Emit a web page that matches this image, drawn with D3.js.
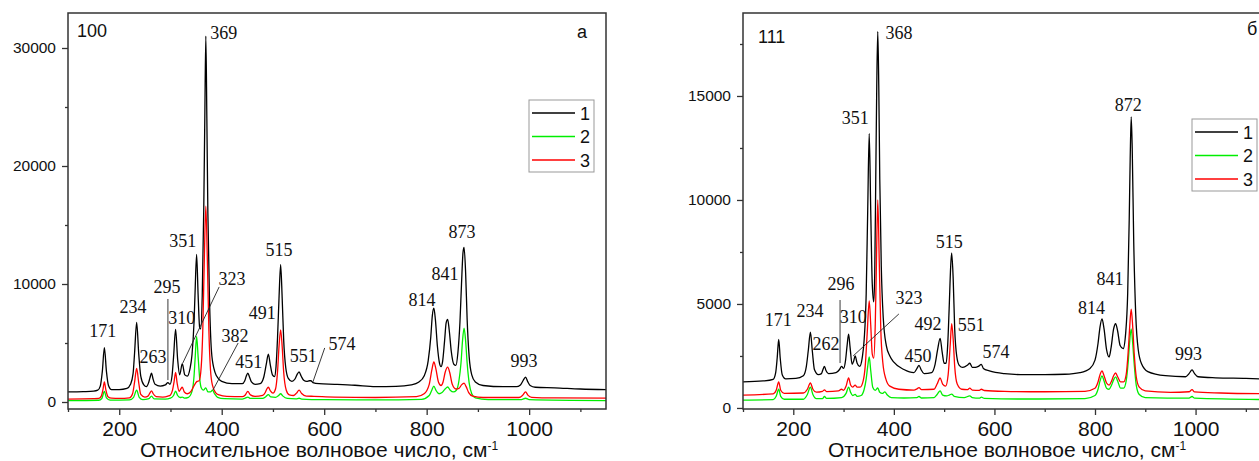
<!DOCTYPE html>
<html><head><meta charset="utf-8">
<script src="https://cdn.jsdelivr.net/npm/d3@7"></script>
<style>
body{margin:0;background:#fff;}
svg{display:block;}
</style></head>
<body>
<svg id="c" width="1259" height="461"></svg>
<script>
// ---------- DATA ----------
const seriesNames = ["1","2","3"];
const seriesColors = ["#000000","#00ee00","#ff0000"];
const xTicks = [200,400,600,800,1000];
const xMinor = [100,300,500,700,900,1100];
const yTicksA = [0,10000,20000,30000];
const yMinorA = [5000,15000,25000];
const yTicksB = [0,5000,10000,15000];
const yMinorB = [2500,7500,12500,17500];
const axisTitle = "Относительное волновое число, см";
const axisTitleSup = "-1";

// Panel a (100): series 1 (black)
const a1 = [[100,850],[130,880],[150,920],[158,1000],[163,1350],[167,2600],[171,4600],[175,2600],[179,1400],[185,1050],[200,1050],[215,1150],[222,1500],[227,2400],[230,4200],[234,6750],[238,4100],[242,2200],[248,1450],[253,1300],[257,1600],[260,2050],[263,2450],[266,1950],[270,1500],[280,1350],[290,1450],[295,1650],[299,1500],[303,2200],[306,3800],[310,6150],[314,3600],[318,2300],[323,3250],[328,2300],[333,2200],[338,2800],[342,4000],[346,6800],[348,9300],[351,12500],[354,9000],[357,6300],[359,6200],[362,9000],[365,16500],[367,24000],[369,31000],[371,24000],[373,16000],[376,9000],[380,4300],[385,2800],[390,2200],[400,1750],[420,1550],[440,1550],[445,1800],[448,2200],[451,2450],[454,2150],[458,1700],[465,1500],[475,1550],[482,2100],[487,3200],[491,4050],[495,3100],[499,2300],[503,2150],[506,3000],[509,5500],[512,9000],[515,11650],[518,8800],[521,5200],[525,2900],[530,2000],[537,1750],[543,1950],[548,2400],[551,2550],[555,2200],[560,1850],[566,1750],[571,1800],[574,1800],[578,1650],[590,1550],[620,1500],[660,1420],[700,1300],[740,1320],[770,1450],[785,1700],[795,2200],[803,3500],[808,5500],[811,7300],[814,7950],[817,7000],[821,4700],[825,3300],[828,3000],[831,3400],[835,5200],[838,6700],[841,7000],[844,6100],[848,4300],[853,3200],[857,3100],[861,4200],[865,6800],[868,10000],[871,12700],[873,13100],[876,11000],[879,7000],[883,3800],[888,2300],[895,1700],[910,1400],[950,1300],[975,1300],[983,1450],[988,1800],[993,2100],[997,1750],[1002,1400],[1012,1250],[1050,1200],[1100,1100],[1150,1050]];
// Panel a: series 2 (green)
const a2 = [[100,120],[160,150],[166,300],[171,900],[175,350],[182,160],[220,180],[228,400],[234,1000],[239,400],[246,200],[258,280],[263,500],[268,260],[290,250],[300,330],[306,550],[310,920],[314,550],[319,380],[323,420],[327,330],[335,400],[342,900],[346,2200],[348,3600],[351,5550],[354,3800],[357,2000],[360,1200],[364,1000],[369,1200],[373,850],[378,850],[382,1000],[386,700],[392,400],[405,280],[440,250],[446,330],[451,420],[456,300],[480,300],[486,450],[491,620],[496,430],[505,400],[511,550],[515,700],[519,520],[528,300],[545,260],[551,320],[556,250],[600,200],[700,180],[790,230],[805,550],[810,1000],[814,1350],[818,1000],[824,700],[830,800],[836,1100],[841,1270],[846,1000],[852,850],[858,1000],[863,1800],[867,3300],[870,5200],[873,6250],[876,5200],[879,3300],[883,1600],[888,700],[895,350],[920,200],[985,200],[993,320],[1000,200],[1150,120]];
// Panel a: series 3 (red)
const a3 = [[100,250],[150,280],[160,300],[165,500],[168,1000],[171,1700],[174,1000],[178,450],[185,320],[200,300],[220,350],[226,700],[230,1700],[234,2850],[238,1650],[242,650],[250,420],[256,500],[260,780],[263,950],[266,720],[272,450],[285,420],[295,500],[300,600],[304,1000],[307,1700],[310,2500],[313,1600],[317,900],[320,1100],[323,1250],[327,850],[333,700],[340,900],[345,1300],[349,1600],[352,1750],[356,1800],[360,3000],[363,6000],[366,12000],[369,16600],[372,12000],[375,6000],[378,2800],[382,1400],[388,800],[395,600],[410,480],[440,450],[446,600],[451,900],[456,600],[465,480],[480,560],[485,800],[488,1100],[491,1250],[495,950],[500,750],[505,1100],[509,2600],[512,4800],[515,6100],[518,4700],[521,2500],[526,1000],[532,600],[540,550],[546,750],[551,1000],[556,720],[565,500],[580,480],[620,420],[700,380],[780,450],[795,700],[805,1500],[810,2700],[814,3400],[818,2800],[823,1700],[828,1400],[832,1700],[836,2500],[841,2950],[845,2500],[850,1500],[857,1100],[863,1150],[868,1450],[873,1600],[877,1300],[882,800],[890,500],[910,380],[980,380],[987,550],[993,850],[998,560],[1005,400],[1050,350],[1150,330]];

// Panel b (111): series 1 (black)
const b1 = [[100,1250],[140,1300],[160,1380],[165,1700],[168,2400],[171,3300],[174,2400],[178,1600],[185,1400],[205,1420],[220,1550],[226,2000],[230,2800],[234,3650],[238,2700],[242,1850],[250,1600],[256,1650],[259,1850],[262,2000],[265,1800],[270,1650],[285,1700],[292,1850],[296,2000],[300,1900],[304,2300],[307,3000],[310,3550],[313,2900],[317,2100],[320,2250],[323,2500],[327,2150],[332,2000],[337,2400],[341,3300],[345,5500],[348,9500],[351,13200],[354,9500],[357,6000],[360,5100],[362,6500],[364,11000],[366,15500],[368,18100],[370,15500],[372,11000],[375,6800],[379,4300],[385,3000],[392,2500],[400,2200],[420,1850],[440,1700],[446,1900],[450,2050],[454,1850],[460,1650],[475,1700],[482,2100],[487,2800],[492,3350],[496,2700],[500,2150],[504,2150],[507,3000],[510,4800],[513,6800],[515,7450],[518,6200],[521,3800],[525,2500],[530,2050],[537,1950],[546,2050],[551,2150],[556,1950],[562,1950],[568,2000],[574,2100],[578,1900],[590,1780],[620,1650],[660,1600],[700,1600],[740,1620],[770,1700],[790,1900],[800,2300],[806,3100],[810,3900],[814,4280],[818,3800],[823,2800],[828,2450],[832,2900],[837,3800],[841,4050],[845,3700],[850,3000],[856,2850],[861,3600],[865,5500],[868,9000],[870,12000],[872,14000],[874,12500],[877,8000],[881,4500],[886,2800],[893,2100],[905,1750],[940,1550],[980,1500],[987,1650],[993,1830],[998,1650],[1005,1500],[1040,1450],[1100,1420],[1150,1380]];
// Panel b: series 2 (green)
const b2 = [[100,380],[160,400],[166,560],[171,900],[175,560],[182,420],[220,420],[228,650],[234,1000],[239,650],[246,450],[258,450],[262,550],[266,460],[296,500],[305,700],[310,1000],[314,750],[318,600],[323,650],[327,560],[335,600],[341,900],[345,1400],[348,2000],[351,2450],[354,1800],[358,1000],[363,850],[368,960],[372,750],[377,700],[382,770],[387,620],[395,500],[420,480],[446,500],[450,550],[455,480],[480,500],[486,650],[492,820],[497,620],[505,580],[511,630],[515,670],[520,560],[540,500],[551,580],[556,500],[570,470],[574,520],[580,460],[650,430],[780,450],[800,600],[806,900],[810,1300],[814,1540],[818,1300],[823,950],[828,900],[833,1100],[837,1350],[841,1490],[845,1300],[851,950],[857,950],[862,1300],[866,2200],[869,3200],[872,3800],[875,3100],[878,2100],[882,1100],[888,650],[900,500],[987,470],[993,550],[998,470],[1150,400]];
// Panel b: series 3 (red)
const b3 = [[100,620],[160,680],[166,850],[171,1250],[175,850],[182,700],[220,720],[228,900],[234,1200],[239,900],[246,760],[258,800],[262,870],[266,790],[290,820],[296,900],[300,850],[305,1050],[310,1440],[314,1100],[318,1000],[323,1100],[327,1000],[333,1000],[339,1300],[343,2000],[347,3600],[351,5150],[354,4000],[357,2600],[360,2400],[363,4000],[365,6500],[368,10000],[371,7000],[374,3800],[378,2200],[384,1400],[392,1050],[410,900],[440,860],[446,920],[450,980],[455,880],[480,900],[486,1150],[492,1440],[497,1150],[503,1050],[508,1600],[512,3000],[515,4050],[518,3300],[521,2000],[526,1150],[535,900],[546,880],[551,950],[556,860],[570,850],[574,900],[580,840],[620,800],[700,780],[780,800],[800,950],[806,1250],[810,1600],[814,1780],[818,1550],[823,1200],[828,1100],[833,1300],[837,1550],[841,1680],[845,1500],[851,1250],[857,1250],[862,1600],[866,2700],[869,3900],[872,4750],[875,3900],[878,2600],[882,1500],[888,1000],[900,820],[950,750],[987,780],[993,880],[998,770],[1050,720],[1150,680]];

// Peak labels: [text, wavenumber anchor, intensity anchor]
const peaksA = [["171",168,5510],["234",227,7540],["263",266,3300],["295",293,9240],["310",322,6610],["351",324,13140],["323",420,9920],["369",404,30760],["382",426,5085],["451",453,2880],["491",479,7030],["515",512,12370],["551",559,3390],["574",635,4400],["814",791,8140],["841",836,10340],["873",869,13900],["993",990,2970]];
const leadersA = [[295,8730,295,1860],[395,9750,324,3300],[432,5000,383,1020],[601,4580,578,1700]];
const peaksB = [["368",410,17740],["351",323,13650],["171",170,3940],["234",233,4375],["262",265,2790],["296",295,5670],["310",319,4090],["323",430,5000],["450",448,2210],["492",468,3750],["515",510,7690],["551",554,3700],["574",603,2400],["814",793,4520],["841",830,5910],["872",866,14280],["993",986,2310]];
const leadersB = [[293,5190,293,2160],[410,4520,319,2500]];

// ---------- DRAW ----------
const svg = d3.select("#c");
const SANS = "'Liberation Sans', Arial, sans-serif";
const SERIF = "'Liberation Serif', 'Times New Roman', serif";

function panel(cfg){
  const x = d3.scaleLinear().domain([100,1150]).range(cfg.xr);
  const y = d3.scaleLinear().domain(cfg.yd).range([409,13]);
  const g = svg.append("g");
  const cid = "clip"+cfg.id;
  g.append("clipPath").attr("id",cid).append("rect")
    .attr("x",cfg.xr[0]).attr("y",13).attr("width",cfg.xr[1]-cfg.xr[0]).attr("height",396);

  const line = d3.line().x(d=>x(d[0])).y(d=>y(d[1])).curve(d3.curveMonotoneX);
  [0,1,2].forEach(i=>{
    g.append("path").datum(cfg.series[i]).attr("d",line)
      .attr("fill","none").attr("stroke",seriesColors[i]).attr("stroke-width",1.3)
      .attr("stroke-linejoin","round").attr("clip-path",`url(#${cid})`);
  });

  // leaders
  g.selectAll(".ld").data(cfg.leaders).join("line")
    .attr("x1",d=>x(d[0])).attr("y1",d=>y(d[1])).attr("x2",d=>x(d[2])).attr("y2",d=>y(d[3]))
    .attr("stroke","#222").attr("stroke-width",0.9);
  // peak labels
  g.selectAll(".pk").data(cfg.peaks).join("text")
    .attr("x",d=>x(d[1])).attr("y",d=>y(d[2])).attr("text-anchor","middle")
    .attr("font-family",SERIF).attr("font-size",18).attr("fill","#111").text(d=>d[0]);

  // frame
  g.append("rect").attr("x",cfg.xr[0]).attr("y",13).attr("width",cfg.xr[1]-cfg.xr[0]).attr("height",396)
    .attr("fill","none").attr("stroke","#333").attr("stroke-width",1.5);

  // axes
  const ax = g.append("g").attr("transform","translate(0,409)")
    .call(d3.axisBottom(x).tickValues(xTicks).tickSize(6).tickPadding(6).tickFormat(d3.format("d")));
  ax.select(".domain").remove();
  ax.selectAll("line").attr("stroke","#333").attr("stroke-width",1.3);
  ax.selectAll("text").attr("font-family",SANS).attr("font-size",21).attr("fill","#111");
  const axm = g.append("g").attr("transform","translate(0,409)")
    .call(d3.axisBottom(x).tickValues(xMinor).tickSize(3).tickFormat(""));
  axm.select(".domain").remove();
  axm.selectAll("line").attr("stroke","#333").attr("stroke-width",1.3);

  const ay = g.append("g").attr("transform",`translate(${cfg.xr[0]},0)`)
    .call(d3.axisLeft(y).tickValues(cfg.yt).tickSize(6).tickPadding(6).tickFormat(d3.format("d")));
  ay.select(".domain").remove();
  ay.selectAll("line").attr("stroke","#333").attr("stroke-width",1.3);
  ay.selectAll("text").attr("font-family",SANS).attr("font-size",15.5).attr("fill","#111");
  const aym = g.append("g").attr("transform",`translate(${cfg.xr[0]},0)`)
    .call(d3.axisLeft(y).tickValues(cfg.ym).tickSize(3).tickFormat(""));
  aym.select(".domain").remove();
  aym.selectAll("line").attr("stroke","#333").attr("stroke-width",1.3);

  // axis title
  const t = g.append("text").attr("x",cfg.titleX).attr("y",457).attr("text-anchor","middle")
    .attr("font-family",SANS).attr("font-size",21).attr("fill","#111");
  t.append("tspan").text(axisTitle);
  t.append("tspan").attr("dy",-7).attr("font-size",12).text(axisTitleSup);

  // panel labels
  g.append("text").attr("x",cfg.labX).attr("y",cfg.labY).attr("font-family",SANS).attr("font-size",18)
    .attr("fill","#111").text(cfg.lab);
  g.append("text").attr("x",cfg.letX).attr("y",cfg.letY).attr("font-family",SANS).attr("font-size",18)
    .attr("fill","#111").text(cfg.letter);

  // legend
  const L = g.append("g").attr("transform",`translate(${cfg.leg[0]},${cfg.leg[1]})`);
  L.append("rect").attr("width",65).attr("height",72).attr("fill","#fff").attr("stroke","#999").attr("stroke-width",1);
  seriesNames.forEach((n,i)=>{
    L.append("line").attr("x1",3).attr("x2",46).attr("y1",13+i*23.5).attr("y2",13+i*23.5)
      .attr("stroke",seriesColors[i]).attr("stroke-width",1.4);
    L.append("text").attr("x",51).attr("y",19.5+i*23.5).attr("font-family",SANS).attr("font-size",18)
      .attr("fill","#111").text(n);
  });
}

panel({id:"a", xr:[68,606], yd:[-593,32966], yt:yTicksA, ym:yMinorA, series:[a1,a2,a3],
  peaks:peaksA, leaders:leadersA, titleX:319, lab:"100", labX:77, labY:37, letter:"а", letX:577, letY:38, leg:[529,100]});
panel({id:"b", xr:[743,1271], yd:[-50,18990], yt:yTicksB, ym:yMinorB, series:[b1,b2,b3],
  peaks:peaksB, leaders:leadersB, titleX:1007, lab:"111", labX:758, labY:43, letter:"б", letX:1247, letY:35, leg:[1192,119]});
</script>
</body></html>
